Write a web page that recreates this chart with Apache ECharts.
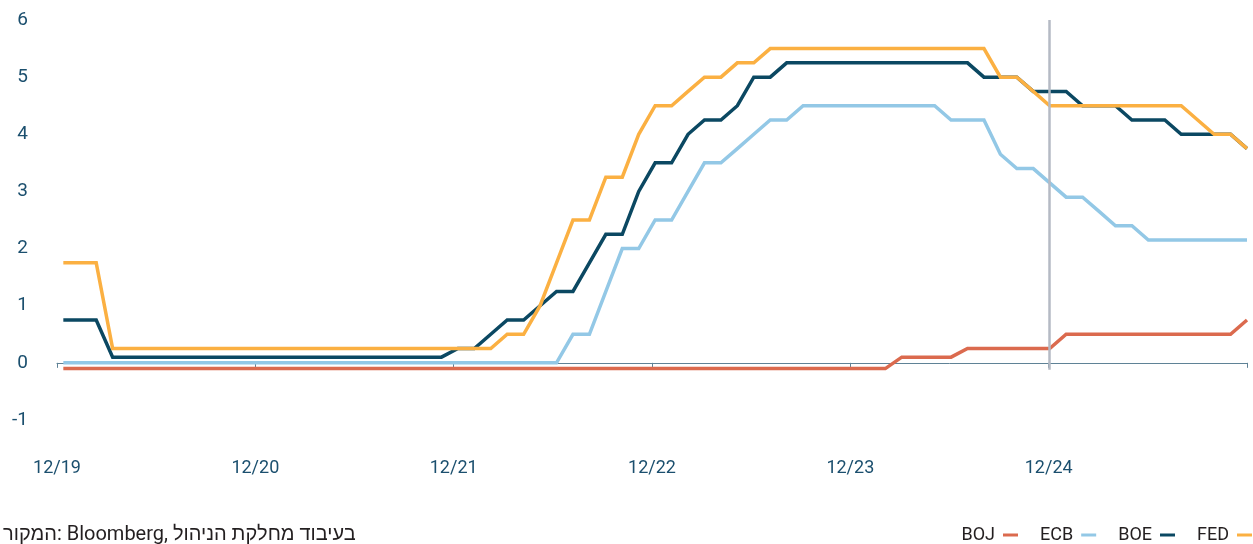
<!DOCTYPE html>
<html>
<head>
<meta charset="utf-8">
<script src="https://cdn.jsdelivr.net/npm/echarts@6/dist/echarts.min.js"></script>
<style>
   html, body { margin: 0; padding: 0; background: #ffffff; }
   #chart { width: 1253px; height: 544px; }
</style>
</head>
<body>
<div id="chart"></div>
<script>

// monthly points, Dec 2019 .. Dec 2025
const months = [
   '12/19',
   '1/20','2/20','3/20','4/20','5/20','6/20','7/20','8/20','9/20','10/20','11/20','12/20',
   '1/21','2/21','3/21','4/21','5/21','6/21','7/21','8/21','9/21','10/21','11/21','12/21',
   '1/22','2/22','3/22','4/22','5/22','6/22','7/22','8/22','9/22','10/22','11/22','12/22',
   '1/23','2/23','3/23','4/23','5/23','6/23','7/23','8/23','9/23','10/23','11/23','12/23',
   '1/24','2/24','3/24','4/24','5/24','6/24','7/24','8/24','9/24','10/24','11/24','12/24',
   '1/25','2/25','3/25','4/25','5/25','6/25','7/25','8/25','9/25','10/25','11/25','12/25'
];

const tickLabels = ['12/19', '12/20', '12/21', '12/22', '12/23', '12/24', ''];

const fed = [
   1.75,
   1.75, 1.75, 0.25, 0.25, 0.25, 0.25, 0.25, 0.25, 0.25, 0.25, 0.25, 0.25,
   0.25, 0.25, 0.25, 0.25, 0.25, 0.25, 0.25, 0.25, 0.25, 0.25, 0.25, 0.25,
   0.25, 0.25, 0.5, 0.5, 1.0, 1.75, 2.5, 2.5, 3.25, 3.25, 4.0, 4.5,
   4.5, 4.75, 5.0, 5.0, 5.25, 5.25, 5.5, 5.5, 5.5, 5.5, 5.5, 5.5,
   5.5, 5.5, 5.5, 5.5, 5.5, 5.5, 5.5, 5.5, 5.0, 5.0, 4.75, 4.5,
   4.5, 4.5, 4.5, 4.5, 4.5, 4.5, 4.5, 4.5, 4.25, 4.0, 4.0, 3.75
];

const boe = [
   0.75,
   0.75, 0.75, 0.1, 0.1, 0.1, 0.1, 0.1, 0.1, 0.1, 0.1, 0.1, 0.1,
   0.1, 0.1, 0.1, 0.1, 0.1, 0.1, 0.1, 0.1, 0.1, 0.1, 0.1, 0.25,
   0.25, 0.5, 0.75, 0.75, 1.0, 1.25, 1.25, 1.75, 2.25, 2.25, 3.0, 3.5,
   3.5, 4.0, 4.25, 4.25, 4.5, 5.0, 5.0, 5.25, 5.25, 5.25, 5.25, 5.25,
   5.25, 5.25, 5.25, 5.25, 5.25, 5.25, 5.25, 5.0, 5.0, 5.0, 4.75, 4.75,
   4.75, 4.5, 4.5, 4.5, 4.25, 4.25, 4.25, 4.0, 4.0, 4.0, 4.0, 3.75
];

const ecb = [
   0,
   0, 0, 0, 0, 0, 0, 0, 0, 0, 0, 0, 0,
   0, 0, 0, 0, 0, 0, 0, 0, 0, 0, 0, 0,
   0, 0, 0, 0, 0, 0, 0.5, 0.5, 1.25, 2.0, 2.0, 2.5,
   2.5, 3.0, 3.5, 3.5, 3.75, 4.0, 4.25, 4.25, 4.5, 4.5, 4.5, 4.5,
   4.5, 4.5, 4.5, 4.5, 4.5, 4.25, 4.25, 4.25, 3.65, 3.4, 3.4, 3.15,
   2.9, 2.9, 2.65, 2.4, 2.4, 2.15, 2.15, 2.15, 2.15, 2.15, 2.15, 2.15
];

const boj = [
   -0.1,
   -0.1, -0.1, -0.1, -0.1, -0.1, -0.1, -0.1, -0.1, -0.1, -0.1, -0.1, -0.1,
   -0.1, -0.1, -0.1, -0.1, -0.1, -0.1, -0.1, -0.1, -0.1, -0.1, -0.1, -0.1,
   -0.1, -0.1, -0.1, -0.1, -0.1, -0.1, -0.1, -0.1, -0.1, -0.1, -0.1, -0.1,
   -0.1, -0.1, -0.1, -0.1, -0.1, -0.1, -0.1, -0.1, -0.1, -0.1, -0.1, -0.1,
   -0.1, -0.1, 0.1, 0.1, 0.1, 0.1, 0.25, 0.25, 0.25, 0.25, 0.25, 0.25,
   0.5, 0.5, 0.5, 0.5, 0.5, 0.5, 0.5, 0.5, 0.5, 0.5, 0.5, 0.75
];

const seriesNames = ['BOJ', 'ECB', 'BOE', 'FED'];
const seriesColors = ['#db6a4e', '#93c8e6', '#0b4862', '#fbb042'];
const markerMonth = '12/24';
const sourceText = 'המקור: Bloomberg, בעיבוד מחלקת הניהול';

const fontFamily = 'Roboto, "Liberation Sans", "DejaVu Sans", sans-serif';
const axisTextColor = '#1b4f6e';
const axisLineColor = '#5f8296';


function toPoints(values)
{
   return values.map((v, i) => [i, v]);
}


function setupChart()
{
   const chart = echarts.init(document.getElementById('chart'));
   const allValues = [boj, ecb, boe, fed];
   const markerIndex = months.indexOf(markerMonth);

   const series = [];
   for (let i = 0; i < seriesNames.length; i++)
   {
      const s =
      {
         name: seriesNames[i],
         type: 'line',
         xAxisIndex: 1,
         data: toPoints(allValues[i]),
         showSymbol: false,
         symbol: 'none',
         lineStyle: { width: 3.5, color: seriesColors[i], join: 'miter' },
         itemStyle: { color: seriesColors[i] },
         emphasis: { disabled: true },
      };
      if (i == 0)
      {
         // vertical marker at 12/24
         s.markLine =
         {
            silent: true,
            symbol: 'none',
            label: { show: false },
            lineStyle: { color: '#b5bac4', width: 2.5, type: 'solid' },
            emphasis: { disabled: true },
            data: [[ { coord: [markerIndex, 6] }, { coord: [markerIndex, -0.12] } ]],
         };
      }
      series.push(s);
   }

   const option =
   {
      animation: false,
      backgroundColor: '#ffffff',
      textStyle: { fontFamily: fontFamily },
      title:
      {
         // LTR embedding so the runs keep their left-to-right order
         text: '\u202A' + sourceText + '\u202C',
         left: 3,
         top: 524,
         padding: 0,
         textStyle: { fontSize: 20, fontWeight: 'normal', color: '#231f20', lineHeight: 22, fontFamily: fontFamily },
      },
      legend:
      {
         data: seriesNames,
         right: 1,
         top: 524,
         padding: 0,
         align: 'right',
         icon: 'rect',
         itemWidth: 15,
         itemHeight: 3,
         itemGap: 22,
         selectedMode: false,
         textStyle: { fontSize: 18, color: '#231f20', lineHeight: 22, padding: [0, 3, 0, 0], fontFamily: fontFamily },
      },
      grid: { left: 57, right: 6, top: 20, bottom: 124, outerBoundsMode: 'none', containLabel: false },
      xAxis:
      [
         {
            type: 'value',
            min: 0,
            max: 72,
            interval: 12,
            axisLine: { show: true, onZero: true, lineStyle: { color: axisLineColor, width: 1 } },
            axisTick: { show: true, length: 5, lineStyle: { color: axisLineColor } },
            splitLine: { show: false },
            axisLabel:
            {
               margin: 39,
               fontSize: 18,
               color: axisTextColor,
               formatter: (v) => tickLabels[Math.round(v / 12)],
            },
         },
         {
            // data axis: month index, first point sits a little right of 12/19
            type: 'value',
            min: -0.385,
            max: 72,
            show: false,
            axisLine: { onZero: false },
         },
      ],
      yAxis:
      {
         type: 'value',
         min: -1,
         max: 6,
         interval: 1,
         axisLine: { show: false },
         axisTick: { show: false },
         splitLine: { show: false },
         axisLabel: { margin: 29, fontSize: 19, color: axisTextColor },
      },
      series: series,
   };

   chart.setOption(option);
}


document.addEventListener('DOMContentLoaded', () =>
{
   setupChart();
});

</script>
</body>
</html>
